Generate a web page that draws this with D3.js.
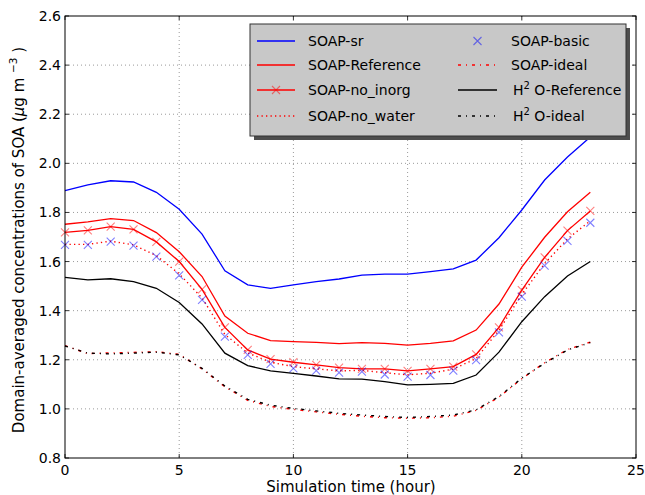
<!DOCTYPE html>
<html>
<head>
<meta charset="utf-8">
<script src="https://cdn.jsdelivr.net/npm/d3@7"></script>
<style>
  html, body { margin: 0; padding: 0; background: #fff; }
  svg { display: block; font-family: "DejaVu Sans", sans-serif; }
</style>
</head>
<body>
<svg id="chart" width="645" height="495"></svg>
<script>
// ---- data ----
const hours = [0,1,2,3,4,5,6,7,8,9,10,11,12,13,14,15,16,17,18,19,20,21,22,23];
const soapSr = [1.889,1.912,1.929,1.924,1.882,1.813,1.712,1.562,1.505,1.491,1.505,1.518,1.529,1.545,1.549,1.549,1.559,1.570,1.606,1.697,1.810,1.932,2.026,2.107];
const soapReference = [1.752,1.762,1.775,1.767,1.718,1.640,1.539,1.378,1.308,1.278,1.274,1.271,1.266,1.270,1.267,1.260,1.267,1.277,1.321,1.427,1.577,1.699,1.803,1.882];
const soapNoInorg = [1.719,1.727,1.742,1.731,1.680,1.600,1.487,1.332,1.240,1.203,1.190,1.179,1.168,1.163,1.163,1.155,1.163,1.172,1.222,1.332,1.484,1.617,1.726,1.806];
const soapNoWater = [1.670,1.670,1.683,1.668,1.624,1.550,1.452,1.303,1.228,1.190,1.172,1.163,1.155,1.157,1.147,1.139,1.145,1.162,1.205,1.320,1.466,1.592,1.692,1.766];
const soapBasic = [1.668,1.668,1.681,1.665,1.620,1.544,1.444,1.294,1.220,1.183,1.165,1.156,1.148,1.152,1.140,1.131,1.138,1.156,1.199,1.312,1.457,1.583,1.684,1.758];
const soapIdeal = [1.258,1.225,1.228,1.230,1.233,1.222,1.163,1.090,1.035,1.010,0.998,0.988,0.978,0.970,0.964,0.962,0.964,0.970,0.994,1.048,1.123,1.188,1.242,1.272];
const h2oReference = [1.536,1.525,1.530,1.518,1.491,1.433,1.346,1.227,1.176,1.155,1.145,1.134,1.122,1.121,1.111,1.098,1.100,1.104,1.138,1.231,1.355,1.457,1.541,1.600];
const h2oIdeal = [1.256,1.227,1.224,1.227,1.231,1.220,1.165,1.093,1.039,1.015,1.002,0.992,0.982,0.975,0.969,0.965,0.969,0.975,0.996,1.050,1.125,1.186,1.240,1.270];

const xTicks = [0,5,10,15,20,25];
const yTicks = [0.8,1.0,1.2,1.4,1.6,1.8,2.0,2.2,2.4,2.6];

// ---- layout ----
const svg = d3.select("#chart");
const L = 65, T = 16, W = 571, H = 442;
const x = d3.scaleLinear().domain([0,25]).range([L, L+W]);
const y = d3.scaleLinear().domain([0.8,2.6]).range([T+H, T]);
const FS_TICK = 14, FS_LAB = 15, FS_LEG = 14;

// grid
const grid = svg.append("g");
xTicks.slice(1,-1).forEach(t => grid.append("line")
  .attr("x1", x(t)).attr("x2", x(t)).attr("y1", T).attr("y2", T+H)
  .attr("stroke", "#555").attr("stroke-width", 0.6).attr("stroke-dasharray", "1,3"));
yTicks.slice(1,-1).forEach(t => grid.append("line")
  .attr("x1", L).attr("x2", L+W).attr("y1", y(t)).attr("y2", y(t))
  .attr("stroke", "#555").attr("stroke-width", 0.6).attr("stroke-dasharray", "1,3"));

// series
const plot = svg.append("g");
function line(vals){ return d3.line().x((d,i)=>x(hours[i])).y(d=>y(d))(vals); }
function drawLine(vals, color, dash, w){
  plot.append("path").attr("d", line(vals)).attr("fill","none")
    .attr("stroke", color).attr("stroke-width", w||1.3)
    .attr("stroke-dasharray", dash||null);
}
function drawX(vals, color, s, op){
  vals.forEach((v,i)=>{
    const cx = x(hours[i]), cy = y(v);
    plot.append("path").attr("d", `M${cx-s},${cy-s}L${cx+s},${cy+s}M${cx-s},${cy+s}L${cx+s},${cy-s}`)
      .attr("stroke", color).attr("stroke-width", 1.1).attr("fill","none").attr("opacity", op);
  });
}
drawLine(soapSr, "#0000ff");
drawLine(soapReference, "#ff0000");
drawLine(soapNoInorg, "#ff0000");
drawX(soapNoInorg, "#ff0000", 4, 0.5);
drawLine(soapNoWater, "#ff0000", "1.3,3.2", 1.4);
drawX(soapBasic, "#0000ff", 4, 0.5);
drawLine(h2oReference, "#000000");
drawLine(soapIdeal, "#ff0000", "3,5,1,5", 1.4);
drawLine(h2oIdeal, "#000000", "3,5,1,5", 1.4);

// frame
svg.append("rect").attr("x", L).attr("y", T).attr("width", W).attr("height", H)
  .attr("fill","none").attr("stroke","#000").attr("stroke-width",1);

// ticks (inside, both sides)
const tk = svg.append("g").attr("stroke","#000").attr("stroke-width",0.8);
xTicks.forEach(t => {
  tk.append("line").attr("x1",x(t)).attr("x2",x(t)).attr("y1",T+H).attr("y2",T+H-4);
  tk.append("line").attr("x1",x(t)).attr("x2",x(t)).attr("y1",T).attr("y2",T+4);
});
yTicks.forEach(t => {
  tk.append("line").attr("x1",L).attr("x2",L+4).attr("y1",y(t)).attr("y2",y(t));
  tk.append("line").attr("x1",L+W).attr("x2",L+W-4).attr("y1",y(t)).attr("y2",y(t));
});

// tick labels
xTicks.forEach(t => svg.append("text").attr("x", x(t)).attr("y", T+H+17)
  .attr("text-anchor","middle").attr("font-size",FS_TICK).attr("fill","#000").text(String(t)));
yTicks.forEach(t => svg.append("text").attr("x", L-4).attr("y", y(t)+5)
  .attr("text-anchor","end").attr("font-size",FS_TICK).attr("fill","#000").text(t.toFixed(1)));

// axis labels
svg.append("text").attr("x", 351).attr("y", 492).attr("text-anchor","middle")
  .attr("font-size",FS_LAB).text("Simulation time (hour)");
const yl = svg.append("text").attr("transform", `translate(24,${240}) rotate(-90)`)
  .attr("text-anchor","middle").attr("font-size",FS_LAB);
yl.append("tspan").text("Domain-averaged concentrations of SOA (");
yl.append("tspan").attr("font-style","italic").text("μ");
yl.append("tspan").text("g m ");
yl.append("tspan").attr("font-size",10.5).attr("dy",-7).text("−3");
yl.append("tspan").attr("dy",7).text(" )");

// legend
const lg = svg.append("g");
const lx = 250, ly = 24, lw = 376, lh = 112;
lg.append("rect").attr("x", lx+4).attr("y", ly+4).attr("width", lw).attr("height", lh).attr("fill","#4d4d4d");
lg.append("rect").attr("x", lx).attr("y", ly).attr("width", lw).attr("height", lh)
  .attr("fill","#c8c8c8").attr("stroke","#333").attr("stroke-width",1);
const rows = [41, 65, 90, 116];
const col1 = [
  {name:"SOAP-sr", color:"#0000ff"},
  {name:"SOAP-Reference", color:"#ff0000"},
  {name:"SOAP-no_inorg", color:"#ff0000", marker:true},
  {name:"SOAP-no_water", color:"#ff0000", dash:"1.3,3.2"}
];
const col2 = [
  {name:"SOAP-basic", color:"#0000ff", onlyMarker:true},
  {name:"SOAP-ideal", color:"#ff0000", dash:"3,5,1,5"},
  {name:"O-Reference", color:"#000000", h2o:true},
  {name:"O-ideal", color:"#000000", dash:"3,5,1,5", h2o:true}
];
function legendItem(it, x0, x1, tx, yy){
  if (!it.onlyMarker) {
    lg.append("line").attr("x1",x0).attr("x2",x1).attr("y1",yy).attr("y2",yy)
      .attr("stroke",it.color).attr("stroke-width",1.4).attr("stroke-dasharray",it.dash||null);
  }
  if (it.marker || it.onlyMarker) {
    const cx = (x0+x1)/2, s = 4;
    lg.append("path").attr("d",`M${cx-s},${yy-s}L${cx+s},${yy+s}M${cx-s},${yy+s}L${cx+s},${yy-s}`)
      .attr("stroke",it.color).attr("stroke-width",1.1).attr("opacity",0.5);
  }
  const t = lg.append("text").attr("x",tx).attr("y",yy+5).attr("font-size",FS_LEG).attr("fill","#000");
  if (it.h2o) {
    t.append("tspan").text("H");
    t.append("tspan").attr("font-size",10).attr("dy",-6).text("2");
    t.append("tspan").attr("dy",6).text(" " + it.name);
  } else t.text(it.name);
}
col1.forEach((it,i)=>legendItem(it, 257, 295, 308, rows[i]));
col2.forEach((it,i)=>legendItem(it, 458, 497, it.h2o ? 513 : 511, rows[i]));
</script>
</body>
</html>
